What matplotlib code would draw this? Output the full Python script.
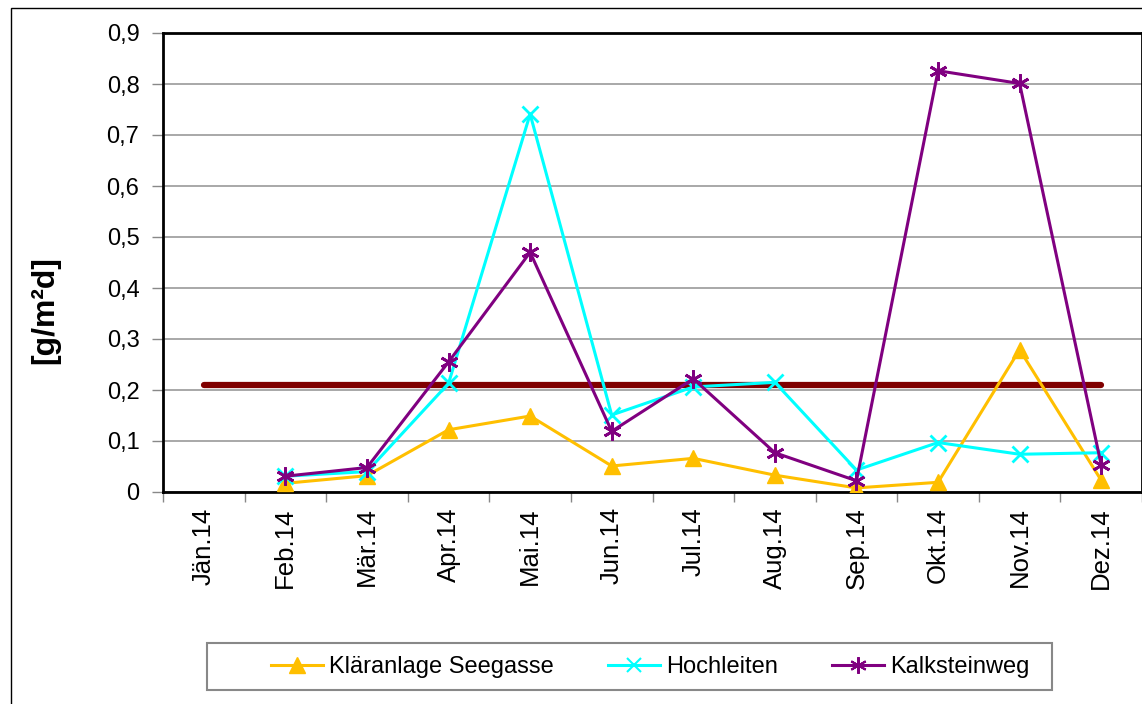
"""Staubniederschlag 2014 - Monatswerte
"""
import numpy as np
import matplotlib
matplotlib.use("Agg")
import matplotlib.pyplot as plt
from matplotlib.patches import Rectangle
from matplotlib.lines import Line2D

plt.rcParams['font.family'] = ['Liberation Sans', 'DejaVu Sans']

months = ["Jän.14", "Feb.14", "Mär.14", "Apr.14", "Mai.14", "Jun.14",
          "Jul.14", "Aug.14", "Sep.14", "Okt.14", "Nov.14", "Dez.14"]

# Jän has no values
klaeranlage = [np.nan, 0.017, 0.032, 0.122, 0.149, 0.051, 0.066, 0.033, 0.008, 0.019, 0.279, 0.023]
hochleiten = [np.nan, 0.031, 0.040, 0.213, 0.741, 0.151, 0.206, 0.215, 0.043, 0.097, 0.074, 0.077]
kalksteinweg = [np.nan, 0.031, 0.048, 0.255, 0.470, 0.119, 0.222, 0.077, 0.022, 0.826, 0.801, 0.053]
grenzwert = [0.21] * 12

y_ticks = [0, 0.1, 0.2, 0.3, 0.4, 0.5, 0.6, 0.7, 0.8, 0.9]
y_ticklabels = ["0", "0,1", "0,2", "0,3", "0,4", "0,5", "0,6", "0,7", "0,8", "0,9"]

fig = plt.figure(figsize=(11.42, 7.04), dpi=100)
ax = fig.add_axes([163/1142, 1-492/704, 979/1142, 459/704])

x = np.arange(len(months))

ax.plot(x, grenzwert, color='#800000', lw=4.5, solid_capstyle='round', zorder=2)
ax.plot(x, klaeranlage, color='#FFBF00', lw=2.2, marker='^', markersize=12, zorder=3)
ax.plot(x, hochleiten, color='#00FFFF', lw=2.2, marker='x', markersize=11, markeredgewidth=2, zorder=4)
ax.plot(x, kalksteinweg, color='#800080', lw=2.2, marker=(6, 2, 0), markersize=13, markeredgewidth=2, zorder=5)

ax.set_xlim(-0.5, 11.5)
ax.set_ylim(0, 0.9)
ax.set_yticks(y_ticks)
ax.set_yticklabels(y_ticklabels, fontsize=17)
ax.yaxis.grid(True, color='#999999', lw=1.2)
ax.set_axisbelow(True)

# category boundaries as major ticks, labels on the minor ticks
ax.set_xticks(np.arange(-0.5, 12, 1))
ax.set_xticklabels([])
ax.set_xticks(x, minor=True)
ax.set_xticklabels(months, minor=True, rotation=90, fontsize=18.5)
ax.tick_params(axis='x', which='major', direction='out', length=7, width=1, color='#888888')
ax.tick_params(axis='x', which='minor', length=0, pad=11)
ax.tick_params(axis='y', direction='out', length=8, width=1, color='#888888', pad=9)

for s in ax.spines.values():
    s.set_linewidth(2)
    s.set_color('black')

ax.set_ylabel("[g/m²d]", fontsize=23, fontweight='bold')
ax.yaxis.set_label_coords(-0.105, 0.397)

handles = [
    Line2D([], [], color='#FFBF00', lw=2.2, marker='^', markersize=11),
    Line2D([], [], color='#00FFFF', lw=2.2, marker='x', markersize=10, markeredgewidth=1.5),
    Line2D([], [], color='#800080', lw=2.2, marker=(6, 2, 0), markersize=12, markeredgewidth=1.5),
]
leg = fig.legend(handles, ['Kläranlage Seegasse', 'Hochleiten', 'Kalksteinweg'],
                 loc='center', bbox_to_anchor=(650/1142, 1-667/704), ncol=3, fontsize=17,
                 frameon=False, handlelength=2.2, columnspacing=2.3, handletextpad=0.25)

# legend box
fig.patches.append(Rectangle((207/1142, 1-690/704), 845/1142, 47/704, transform=fig.transFigure,
                             fill=False, edgecolor='#888888', lw=1.5))

# outer chart border
fig.patches.append(Rectangle((11/1142, -0.05), 1.0, 1.05-8/704, transform=fig.transFigure,
                             fill=False, edgecolor='black', lw=1))

fig.savefig("out.png", dpi=100)
